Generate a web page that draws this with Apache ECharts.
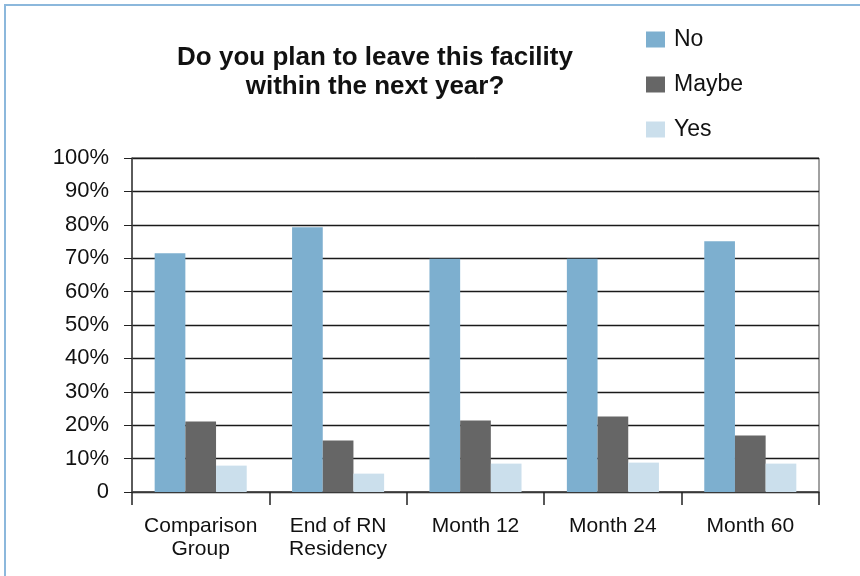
<!DOCTYPE html>
<html>
<head>
<meta charset="utf-8">
<script src="https://cdn.jsdelivr.net/npm/echarts@6/dist/echarts.min.js"></script>
<style>
html,body{margin:0;padding:0;background:#fff;}
#chart{width:860px;height:576px;}
</style>
</head>
<body>
<div id="chart"></div>
<script>
const categories = ['Comparison\nGroup', 'End of RN\nResidency', 'Month 12', 'Month 24', 'Month 60'];
const noValues = [71.5, 79.3, 69.8, 69.8, 75.1];
const maybeValues = [21.1, 15.4, 21.4, 22.6, 16.9];
const yesValues = [7.9, 5.5, 8.5, 8.8, 8.5];
const seriesNames = ['No', 'Maybe', 'Yes'];
const yTicks = [0, 10, 20, 30, 40, 50, 60, 70, 80, 90, 100];

const FONT = "'Liberation Sans', Arial, Helvetica, sans-serif";
const colors = ['#7dafcf', '#666666', '#cbdfec'];

const chart = echarts.init(document.getElementById('chart'), null, {renderer: 'canvas'});
const option = {
  backgroundColor: '#ffffff',
  animation: false,
  textStyle: {fontFamily: FONT},
  graphic: [{
    type: 'rect',
    shape: {x: 5, y: 5, width: 900, height: 700},
    style: {fill: 'none', stroke: '#8cb8dc', lineWidth: 2},
    silent: true
  }],
  title: {
    text: 'Do you plan to leave this facility\nwithin the next year?',
    left: 375,
    top: 43,
    padding: 0,
    textAlign: 'center',
    textStyle: {fontFamily: FONT, fontSize: 26, fontWeight: 'bold', color: '#111', lineHeight: 29}
  },
  legend: {
    orient: 'vertical',
    left: 646,
    top: 28,
    padding: 0,
    itemWidth: 19,
    itemHeight: 16,
    itemGap: 22,
    icon: 'rect',
    data: seriesNames,
    textStyle: {fontFamily: FONT, fontSize: 23, color: '#111', lineHeight: 20, padding: [0, 0, 0, 4]}
  },
  grid: {
    left: 132, right: 41, top: 158, bottom: 84,
    show: true, borderColor: '#444', borderWidth: 1, backgroundColor: 'transparent',
    containLabel: false
  },
  xAxis: {
    type: 'category',
    data: categories,
    axisLine: {show: true, lineStyle: {color: '#444', width: 1.5}},
    axisTick: {show: true, length: 13, lineStyle: {color: '#222', width: 1.5}},
    axisLabel: {interval: 0, margin: 23, fontFamily: FONT, fontSize: 21, lineHeight: 23, color: '#111', align: 'center'},
    splitLine: {show: false}
  },
  yAxis: {
    type: 'value',
    min: yTicks[0],
    max: yTicks[yTicks.length - 1],
    interval: 10,
    axisLine: {show: true, lineStyle: {color: '#444', width: 1.5}},
    axisTick: {show: true, length: 8, lineStyle: {color: '#222'}},
    axisLabel: {margin: 23, fontFamily: FONT, fontSize: 22, color: '#111',
      formatter: v => (v === 0 ? '0' : v + '%')},
    splitLine: {show: true, lineStyle: {color: '#1a1a1a', width: 1.3}}
  },
  series: [
    {name: seriesNames[0], type: 'bar', data: noValues, itemStyle: {color: colors[0]}, barGap: '0%', barCategoryGap: '33%'},
    {name: seriesNames[1], type: 'bar', data: maybeValues, itemStyle: {color: colors[1]}, barGap: '0%', barCategoryGap: '33%'},
    {name: seriesNames[2], type: 'bar', data: yesValues, itemStyle: {color: colors[2]}, barGap: '0%', barCategoryGap: '33%'}
  ]
};
chart.setOption(option);
</script>
</body>
</html>
